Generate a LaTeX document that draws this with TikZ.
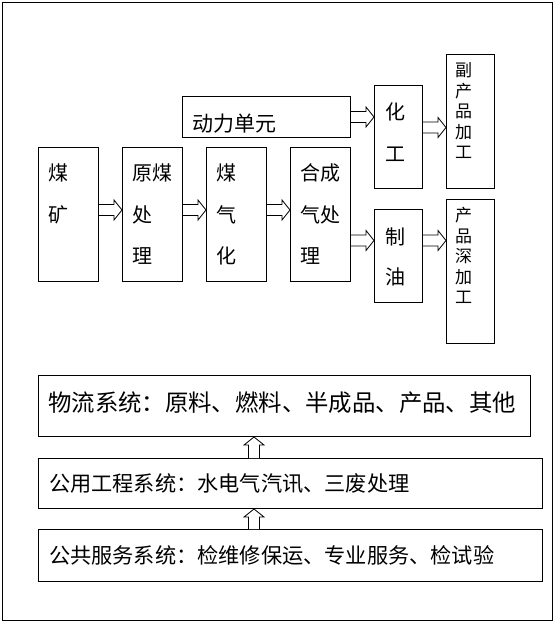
\documentclass[tikz,border=0pt]{standalone}
\usepackage{fontspec}
\setmainfont{Noto Sans CJK SC}
\usetikzlibrary{calc}

\tikzset{
  box/.style={draw, line width=1pt, inner sep=0, anchor=north west},
  txt/.style={inner sep=0, anchor=base west, align=left},
  big/.style={font=\fontsize{20pt}{41.5pt}\selectfont},
  small/.style={font=\fontsize{17pt}{20.5pt}\selectfont},
  fat/.style={draw, line width=.8pt, fill=white, to path={
    ($(\tikztostart)!5.5pt!90:(\tikztotarget)$)
    -- ($(\tikztotarget)!8pt!(\tikztostart)!5.5pt!-90:(\tikztostart)$)
    -- ($(\tikztotarget)!8pt!(\tikztostart)!10pt!-90:(\tikztostart)$)
    -- (\tikztotarget)
    -- ($(\tikztotarget)!8pt!(\tikztostart)!10pt!90:(\tikztostart)$)
    -- ($(\tikztotarget)!8pt!(\tikztostart)!5.5pt!90:(\tikztostart)$)
    -- ($(\tikztostart)!5.5pt!-90:(\tikztotarget)$)}}
}

\begin{document}
\begin{tikzpicture}[x=1pt, y=-1pt]
\useasboundingbox (0,0) rectangle (557,625);
\draw[line width=1pt] (2,2) rectangle (552,620);

% production chain
\node[box, minimum width=60, minimum height=134] (mine) at (38,147) {};
\node[box, minimum width=60, minimum height=134] (prep) at (122,147) {};
\node[box, minimum width=60, minimum height=134] (gasif) at (206,147) {};
\node[box, minimum width=60, minimum height=134] (syngas) at (290,147) {};
\node[box, minimum width=168, minimum height=41] (power) at (182,96) {};
\node[box, minimum width=48, minimum height=103] (chem) at (374,85) {};
\node[box, minimum width=48, minimum height=93] (oil) at (374,209) {};
\node[box, minimum width=48, minimum height=134] (byprod) at (446,54) {};
\node[box, minimum width=48, minimum height=144] (deep) at (446,199) {};

% base = last line
\node[txt, big] (mine-t) at ([shift={(10,75.1)}]mine.north west) {煤\\矿};
\node[txt, big] (prep-t) at ([shift={(10,116.6)}]prep.north west) {原煤\\处\\理};
\node[txt, big] (gasif-t) at ([shift={(10,116.6)}]gasif.north west) {煤\\气\\化};
\node[txt, big] (syngas-t) at ([shift={(10,116.6)}]syngas.north west) {合成\\气处\\理};
\node[txt, font=\fontsize{21pt}{21pt}\selectfont] (power-t) at ([shift={(10,35)}]power.north west) {动力单元};
\node[txt, big] (chem-t) at ([shift={(11,76.1)}]chem.north west) {化\\工};
\node[txt, font=\fontsize{20pt}{40pt}\selectfont] (oil-t) at ([shift={(11,75.6)}]oil.north west) {制\\油};
\node[txt, small] (byprod-t) at ([shift={(9,104.5)}]byprod.north west) {副\\产\\品\\加\\工};
\node[txt, small] (deep-t) at ([shift={(9,104.5)}]deep.north west) {产\\品\\深\\加\\工};

\coordinate (a1) at ([yshift=4.5pt]mine.east);
\coordinate (a2) at ([yshift=4.5pt]prep.east);
\coordinate (a3) at ([yshift=4.5pt]gasif.east);
\coordinate (a4) at ([yshift=9.5pt]chem.east);
\coordinate (oilin) at ([yshift=15.5pt]oil.west);
\draw[fat] (a1) to (a1 -| prep.west);
\draw[fat] (a2) to (a2 -| gasif.west);
\draw[fat] (a3) to (a3 -| syngas.west);
\draw[fat] (power.east) to (power.east -| chem.west);
\draw[fat] (a4) to (a4 -| byprod.west);
\draw[fat] (oilin -| syngas.east) to (oilin);
\draw[fat] (oilin -| oil.east) to (oilin -| deep.west);

% support systems
\node[box, minimum width=492, minimum height=61] (logist) at (38,375) {};
\node[box, minimum width=504, minimum height=50] (utility) at (38,458) {};
\node[box, minimum width=504, minimum height=52] (service) at (38,529) {};
\node[txt, font=\fontsize{23.4pt}{23.4pt}\selectfont] (logist-t) at ([shift={(10,36)}]logist.north west) {物流系统：原料、燃料、半成品、产品、其他};
\node[txt, font=\fontsize{21.2pt}{21.2pt}\selectfont] (utility-t) at ([shift={(11,33)}]utility.north west) {公用工程系统：水电气汽讯、三废处理};
\node[txt, font=\fontsize{21.2pt}{21.2pt}\selectfont] (service-t) at ([shift={(11,34)}]service.north west) {公共服务系统：检维修保运、专业服务、检试验};

\coordinate (upx) at (254,0);
\draw[fat] (upx |- service.north) to (upx |- utility.south);
\draw[fat] (upx |- utility.north) to (upx |- logist.south);
\end{tikzpicture}
\end{document}
